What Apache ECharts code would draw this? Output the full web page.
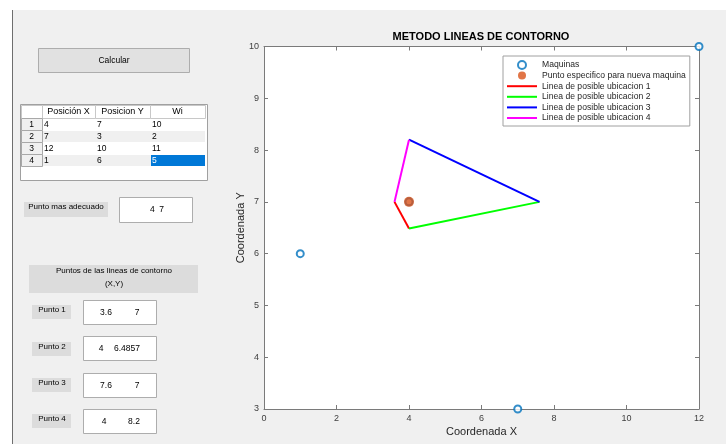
<!DOCTYPE html>
<html>
<head>
<meta charset="utf-8">
<script src="https://cdn.jsdelivr.net/npm/echarts@6/dist/echarts.min.js"></script>
<style>html,body{margin:0;padding:0;background:#f0f0f0}#c{width:726px;height:444px}</style>
</head>
<body>
<div id="c"></div>
<script>
// ---- data ----
const tableHeaders = ['Posición X', 'Posicion Y', 'Wi'];
const posX = [4, 7, 12, 1];
const posY = [7, 3, 10, 6];
const wi = [10, 2, 11, 5];
const bestPoint = [4, 7];
const contourPoints = [[3.6, 7], [4, 6.4857], [7.6, 7], [4, 8.2]];
const contourLabels = [['3.6', '7'], ['4', '6.4857'], ['7.6', '7'], ['4', '8.2']];
const lineNames = ['Linea de posible ubicacion 1', 'Linea de posible ubicacion 2', 'Linea de posible ubicacion 3', 'Linea de posible ubicacion 4'];
const lineColors = ['#FF0000', '#00FF00', '#0000FF', '#FF00FF'];
const xTicks = {min: 0, max: 12, step: 2};
const yTicks = {min: 3, max: 10, step: 1};

// ---- GUI graphic elements ----
const FONT = '"Liberation Sans", Arial, sans-serif';
const gfx = [];
function rect(x, y, w, h, fill, stroke) {
  gfx.push({type: 'rect', silent: true, shape: {x: x, y: y, width: w, height: h},
    style: {fill: fill, stroke: stroke || null, lineWidth: 1}});
}
function txt(x, y, t, size, align, color) {
  gfx.push({type: 'text', silent: true, x: x, y: y,
    style: {text: t, fill: color || '#000', font: size + 'px ' + FONT,
      textAlign: align || 'center', textVerticalAlign: 'middle',
      align: align || 'center', verticalAlign: 'middle'}});
}
// window edges
rect(0, 0, 726, 10, '#ffffff');
rect(0, 0, 12, 444, '#ffffff');
gfx.push({type: 'line', silent: true, shape: {x1: 12.5, y1: 10, x2: 12.5, y2: 444}, style: {stroke: '#6e6e6e', lineWidth: 1}});

// Calcular button
rect(38.5, 48.5, 151, 24, '#e1e1e1', '#adadad');
txt(114, 61, 'Calcular', 8.5);

// table
rect(20.5, 104.5, 187, 76, '#ffffff', '#a0a0a0');
const colX = [21, 42, 95, 150, 205];
const rowY = [105, 118, 130, 142, 154, 166];
for (let c = 0; c < 4; c++) {
  rect(colX[c] + 0.5, rowY[0] + 0.5, colX[c + 1] - colX[c], rowY[1] - rowY[0], '#ffffff', '#c8c8c8');
}
for (let c = 0; c < 3; c++) {
  txt((colX[c + 1] + colX[c + 2]) / 2, (rowY[0] + rowY[1]) / 2 + 0.5, tableHeaders[c], 9);
}
for (let r = 0; r < 4; r++) {
  const y0 = rowY[r + 1], y1 = rowY[r + 2];
  rect(colX[0] + 0.5, y0 + 0.5, colX[1] - colX[0], y1 - y0, '#f0f0f0', '#a8a8a8');
  txt((colX[0] + colX[1]) / 2, (y0 + y1) / 2 + 0.5, String(r + 1), 8.5);
  rect(colX[1] + 1, y0 + 1, colX[4] - colX[1] - 1, y1 - y0 - 1, r % 2 === 0 ? '#ffffff' : '#f0f0f0');
  const vals = [posX[r], posY[r], wi[r]];
  for (let c = 0; c < 3; c++) {
    const sel = (r === 3 && c === 2);
    if (sel) rect(colX[c + 1] + 1, y0 + 1, colX[c + 2] - colX[c + 1] - 1, y1 - y0 - 1, '#0078D7');
    txt(colX[c + 1] + 2, (y0 + y1) / 2 + 0.5, String(vals[c]), 8.5, 'left', sel ? '#ffffff' : '#000');
  }
}

// best point
rect(24, 202, 84, 15, '#dcdcdc');
txt(66, 207, 'Punto mas adecuado', 8);
rect(119.5, 197.5, 73, 25, '#ffffff', '#adadad');
txt(157, 210, bestPoint[0] + '  ' + bestPoint[1], 8.5);

// contour points panel
rect(29, 265, 169, 28, '#dcdcdc');
txt(114, 270.5, 'Puntos de las lineas de contorno', 8);
txt(114, 284, '(X,Y)', 8);
const labY = [310, 347, 383, 419];
const boxY = [300, 336, 373, 409];
const valX = [[106, 137], [101, 127], [106, 137], [104, 134]];
for (let i = 0; i < 4; i++) {
  rect(32, labY[i] - 5, 39, 14, '#dcdcdc');
  txt(52, labY[i], 'Punto ' + (i + 1), 8);
  rect(83.5, boxY[i] + 0.5, 73, 24, '#ffffff', '#adadad');
  txt(valX[i][0], boxY[i] + 13, contourLabels[i][0], 8.5);
  txt(valX[i][1], boxY[i] + 13, contourLabels[i][1], 8.5);
}

// ---- chart ----
const machines = posX.map((x, i) => [x, posY[i]]);
const lineSeries = lineNames.map((n, i) => ({
  name: n, type: 'line', symbol: 'none', symbolSize: 0, silent: true, z: 3,
  lineStyle: {color: lineColors[i], width: 2}, itemStyle: {color: lineColors[i]},
  data: [contourPoints[i], contourPoints[(i + 1) % 4]]
}));

const axisCol = '#7a7a7a';
const labelCol = '#404040';
function mkX(pos, showLab) {
  return {type: 'value', min: xTicks.min, max: xTicks.max, interval: xTicks.step, position: pos,
    name: showLab ? 'Coordenada X' : '', nameLocation: 'middle', nameGap: 17, nameMoveOverlap: false,
    nameTextStyle: {color: '#262626', fontSize: 11, fontFamily: FONT},
    axisLine: {show: true, onZero: false, lineStyle: {color: axisCol, width: 1}},
    axisTick: {show: true, inside: true, length: 4, lineStyle: {color: axisCol}},
    axisLabel: {show: showLab, color: labelCol, fontSize: 9, fontFamily: FONT, margin: 5},
    splitLine: {show: false}};
}
function mkY(pos, showLab) {
  return {type: 'value', min: yTicks.min, max: yTicks.max, interval: yTicks.step, position: pos,
    name: showLab ? 'Coordenada Y' : '', nameLocation: 'middle', nameGap: 18, nameMoveOverlap: false,
    nameTextStyle: {color: '#262626', fontSize: 11, fontFamily: FONT},
    axisLine: {show: true, onZero: false, lineStyle: {color: axisCol, width: 1}},
    axisTick: {show: true, inside: true, length: 4, lineStyle: {color: axisCol}},
    axisLabel: {show: showLab, color: labelCol, fontSize: 9, fontFamily: FONT, margin: 5},
    splitLine: {show: false}};
}

const legendData = [{name: 'Maquinas'}, {name: 'Punto especifico para nueva maquina'}]
  .concat(lineNames.map(n => ({name: n, itemStyle: {opacity: 0}})));

const option = {
  backgroundColor: '#f0f0f0',
  animation: false,
  title: {text: 'METODO LINEAS DE CONTORNO', left: 481, top: 31, padding: 0, textAlign: 'center',
    textStyle: {fontSize: 11, fontWeight: 'bold', color: '#000', fontFamily: FONT}},
  grid: {left: 264, right: 27, top: 46.5, bottom: 35, show: true, backgroundColor: '#ffffff', borderWidth: 0},
  legend: {orient: 'vertical', left: 503, top: 56, padding: [4, 4, 3, 3],
    backgroundColor: '#ffffff', borderColor: '#a0a0a0', borderWidth: 1,
    itemWidth: 30, itemHeight: 8, itemGap: 0.6,
    textStyle: {fontSize: 8.6, lineHeight: 10, color: '#262626', fontFamily: FONT},
    data: legendData},
  xAxis: [mkX('bottom', true), mkX('top', false)],
  yAxis: [mkY('left', true), mkY('right', false)],
  graphic: gfx,
  series: [
    {name: 'Maquinas', type: 'scatter', symbol: 'circle', symbolSize: 7, clip: false, z: 4,
      itemStyle: {color: '#ffffff', borderColor: '#0072BD', borderWidth: 2}, data: machines},
    {name: 'Punto especifico para nueva maquina', type: 'scatter', symbol: 'circle', symbolSize: 10, z: 5,
      itemStyle: {color: '#D95319'}, data: [bestPoint]}
  ].concat(lineSeries)
};
const chart = echarts.init(document.getElementById('c'), null, {renderer: 'canvas'});
chart.setOption(option);
</script>
</body>
</html>
